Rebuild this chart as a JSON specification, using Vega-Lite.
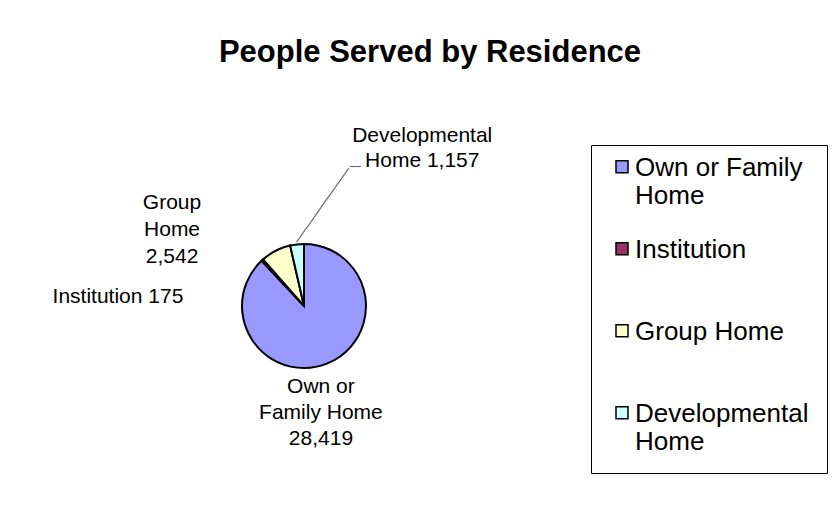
{
  "$schema": "https://vega.github.io/schema/vega-lite/v6.json",
  "width": 608,
  "height": 424,
  "autosize": {"type": "none"},
  "padding": {"left": 0, "top": 94, "right": 230, "bottom": 0},
  "background": "white",
  "title": {
    "text": "People Served by Residence",
    "font": "Liberation Sans",
    "fontSize": 31,
    "fontWeight": "bold",
    "color": "black",
    "anchor": "middle",
    "frame": "group",
    "baseline": "alphabetic",
    "offset": 1,
    "dx": 126
  },
  "data": {
    "values": [
      {"rank": 1, "category": "Own or Family Home", "people": 28419, "label": "Own or\nFamily Home\n28,419"},
      {"rank": 2, "category": "Institution", "people": 175, "label": "Institution 175"},
      {"rank": 3, "category": "Group Home", "people": 2542, "label": "Group\nHome\n2,542"},
      {"rank": 4, "category": "Developmental Home", "people": 1157, "label": "Developmental\nHome 1,157"}
    ]
  },
  "encoding": {
    "theta": {"field": "people", "type": "quantitative", "stack": true},
    "order": {"field": "rank", "type": "quantitative"}
  },
  "layer": [
    {
      "mark": {"type": "arc", "outerRadius": 62, "stroke": "black", "strokeWidth": 2},
      "encoding": {
        "color": {
          "field": "category",
          "type": "nominal",
          "scale": {
            "domain": ["Own or Family Home", "Institution", "Group Home", "Developmental Home"],
            "range": ["#9999FF", "#993366", "#FFFFCC", "#CCFFFF"]
          },
          "legend": {
            "orient": "none",
            "legendX": 591,
            "legendY": 51,
            "title": null,
            "symbolType": "M-1,-2.55H1V-0.55H-1Z",
            "symbolSize": 144,
            "symbolStrokeColor": "black",
            "symbolStrokeWidth": 1.5,
            "symbolOpacity": 1,
            "labelFont": "Liberation Sans",
            "labelFontSize": 26,
            "labelColor": "black",
            "labelOffset": 0,
            "labelBaseline": "alphabetic",
            "labelLimit": 300,
            "rowPadding": 28,
            "padding": 18,
            "strokeColor": "black",
            "fillColor": "white",
            "labelExpr": "datum.label == 'Own or Family Home' ? ['Own or Family', 'Home'] : datum.label == 'Developmental Home' ? ['Developmental', 'Home'] : [datum.label, '']"
          }
        }
      }
    },
    {
      "mark": {"type": "text", "radius": 114, "dx": -25, "dy": -25, "font": "Liberation Sans", "fontSize": 21, "lineBreak": "\n", "lineHeight": 26, "align": "center", "baseline": "middle", "color": "black"},
      "encoding": {"text": {"condition": {"test": "datum.category === 'Own or Family Home'", "field": "label"}, "value": ""}}
    },
    {
      "mark": {"type": "text", "radius": 70, "dx": -139, "dy": 43, "font": "Liberation Sans", "fontSize": 21, "lineBreak": "\n", "lineHeight": 26, "align": "center", "baseline": "middle", "color": "black"},
      "encoding": {"text": {"condition": {"test": "datum.category === 'Institution'", "field": "label"}, "value": ""}}
    },
    {
      "mark": {"type": "text", "radius": 90, "dx": -91, "dy": -23, "font": "Liberation Sans", "fontSize": 21, "lineBreak": "\n", "lineHeight": 27, "align": "center", "baseline": "middle", "color": "black"},
      "encoding": {"text": {"condition": {"test": "datum.category === 'Group Home'", "field": "label"}, "value": ""}}
    },
    {
      "mark": {"type": "text", "radius": 158, "dx": 136, "dy": -13, "font": "Liberation Sans", "fontSize": 21, "lineBreak": "\n", "lineHeight": 25, "align": "center", "baseline": "middle", "color": "black"},
      "encoding": {"text": {"condition": {"test": "datum.category === 'Developmental Home'", "field": "label"}, "value": ""}}
    },
    {
      "mark": {"type": "text", "radius": 64, "angle": -54.75, "font": "DejaVu Sans", "fontSize": 10, "align": "left", "baseline": "middle", "color": "#333333"},
      "encoding": {"text": {"condition": {"test": "datum.category === 'Developmental Home'", "value": "───────────────"}, "value": ""}}
    },
    {
      "mark": {"type": "text", "radius": 64, "dx": 53, "dy": -75.5, "font": "DejaVu Sans", "fontSize": 9, "align": "left", "baseline": "middle", "color": "#333333"},
      "encoding": {"text": {"condition": {"test": "datum.category === 'Developmental Home'", "value": "──"}, "value": ""}}
    }
  ],
  "config": {"view": {"stroke": null}}
}
